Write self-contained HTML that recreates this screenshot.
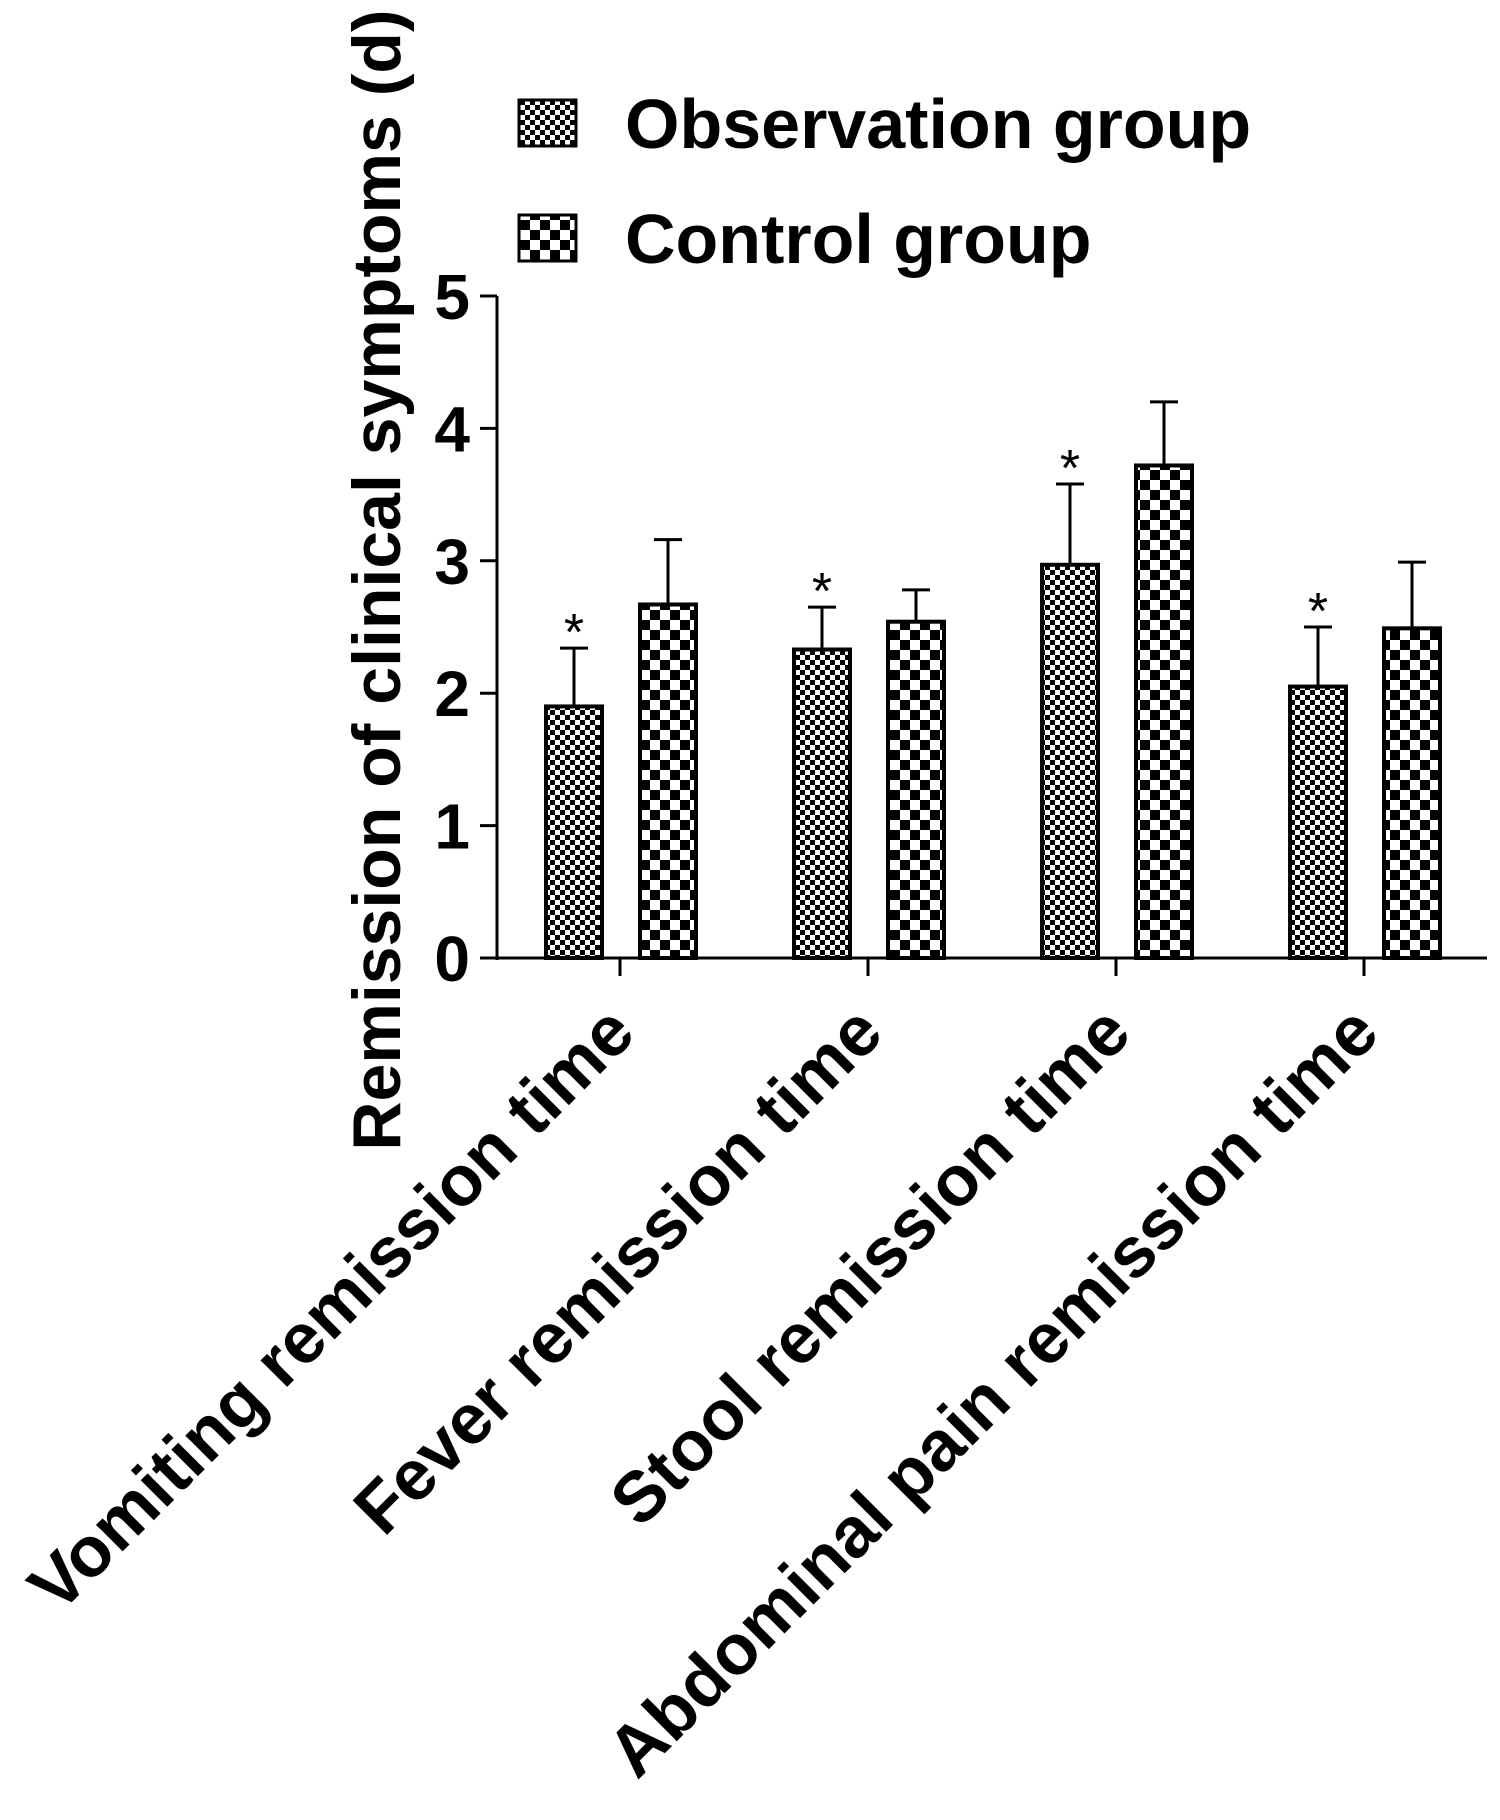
<!DOCTYPE html>
<html><head><meta charset="utf-8"><style>
html,body{margin:0;padding:0;background:#fff;}
svg{display:block;font-family:"Liberation Sans",Arial,sans-serif;font-weight:bold;}
</style></head><body>
<svg id="chart" width="1500" height="1820" viewBox="0 0 1500 1820" xmlns="http://www.w3.org/2000/svg">
<defs>
<pattern id="fine" width="10" height="10" patternUnits="userSpaceOnUse">
<rect width="10" height="10" fill="#fff"/><rect width="5" height="5" fill="#000"/><rect x="5" y="5" width="5" height="5" fill="#000"/>
</pattern>
<pattern id="coarse" width="20" height="20" patternUnits="userSpaceOnUse">
<rect width="20" height="20" fill="#fff"/><rect width="10" height="10" fill="#000"/><rect x="10" y="10" width="10" height="10" fill="#000"/>
</pattern>
</defs>
<g id="legend">
<rect x="519" y="100" width="57" height="46" fill="url(#fine)" stroke="#000" stroke-width="3"/>
<text x="625" y="148" font-size="70">Observation group</text>
<rect x="519" y="215" width="57" height="46" fill="url(#coarse)" stroke="#000" stroke-width="3"/>
<text x="625" y="263" font-size="70">Control group</text>
</g>
<text transform="translate(400,580) rotate(-90)" text-anchor="middle" font-size="68">Remission of clinical symptoms (d)</text>
<g id="plot"></g>
</svg>
<script>
const categories = ["Vomiting remission time","Fever remission time","Stool remission time","Abdominal pain remission time"];
const observation = [1.90, 2.33, 2.97, 2.05];
const observationErr = [0.44, 0.32, 0.61, 0.45];
const control = [2.67, 2.54, 3.72, 2.49];
const controlErr = [0.49, 0.24, 0.48, 0.50];
const yTicks = [0,1,2,3,4,5];

const NS="http://www.w3.org/2000/svg";
const g=document.getElementById('plot');
const x0=497, y0=958, unit=132.4, groupStart=620, groupStep=248;
const y=v=>y0-v*unit;
const cx=i=>groupStart+i*groupStep;
function el(t,a,txt){const e=document.createElementNS(NS,t);for(const k in a)e.setAttribute(k,a[k]);if(txt!=null)e.textContent=txt;g.appendChild(e);return e;}

let e=el('line',{x1:x0,y1:y(5),x2:x0,y2:y0+2,stroke:'#000','stroke-width':3});


e=el('line',{x1:x0-2,y1:y0,x2:1487,y2:y0,stroke:'#000','stroke-width':3});


yTicks.forEach(t=>{
  let l=el('line',{x1:x0-17,y1:y(t),x2:x0,y2:y(t),stroke:'#000','stroke-width':3});
  
  
  let tx=el('text',{x:x0-27,y:y(t)+23,'text-anchor':'end','font-size':64},String(t));
  
  
});
function bar(xl,v,err,fill,name){
  let l=el('line',{x1:xl+28,y1:y(v),x2:xl+28,y2:y(v+err),stroke:'#000','stroke-width':3});
  
  
  let c=el('line',{x1:xl+14,y1:y(v+err),x2:xl+42,y2:y(v+err),stroke:'#000','stroke-width':3});
  
  
  let r=el('rect',{x:xl,y:y(v),width:56,height:v*unit,fill:fill,stroke:'#000','stroke-width':4});
  
  
}
categories.forEach((c,i)=>{
  const m=cx(i);
  bar(m-74,observation[i],observationErr[i],'url(#fine)','bar-observation-'+(i+1));
  bar(m+20,control[i],controlErr[i],'url(#coarse)','bar-control-'+(i+1));
  let s=el('text',{x:m-46,y:y(observation[i]+observationErr[i])+2,'text-anchor':'middle','font-size':52,'font-weight':'normal'},'*');
  
  
  let t=el('line',{x1:m,y1:y0,x2:m,y2:y0+18,stroke:'#000','stroke-width':3});
  
  
  let lb=el('text',{transform:`translate(${m+18},${y0+78}) rotate(-45)`,'text-anchor':'end','font-size':71},c);
  
  
});
</script>
</body></html>
